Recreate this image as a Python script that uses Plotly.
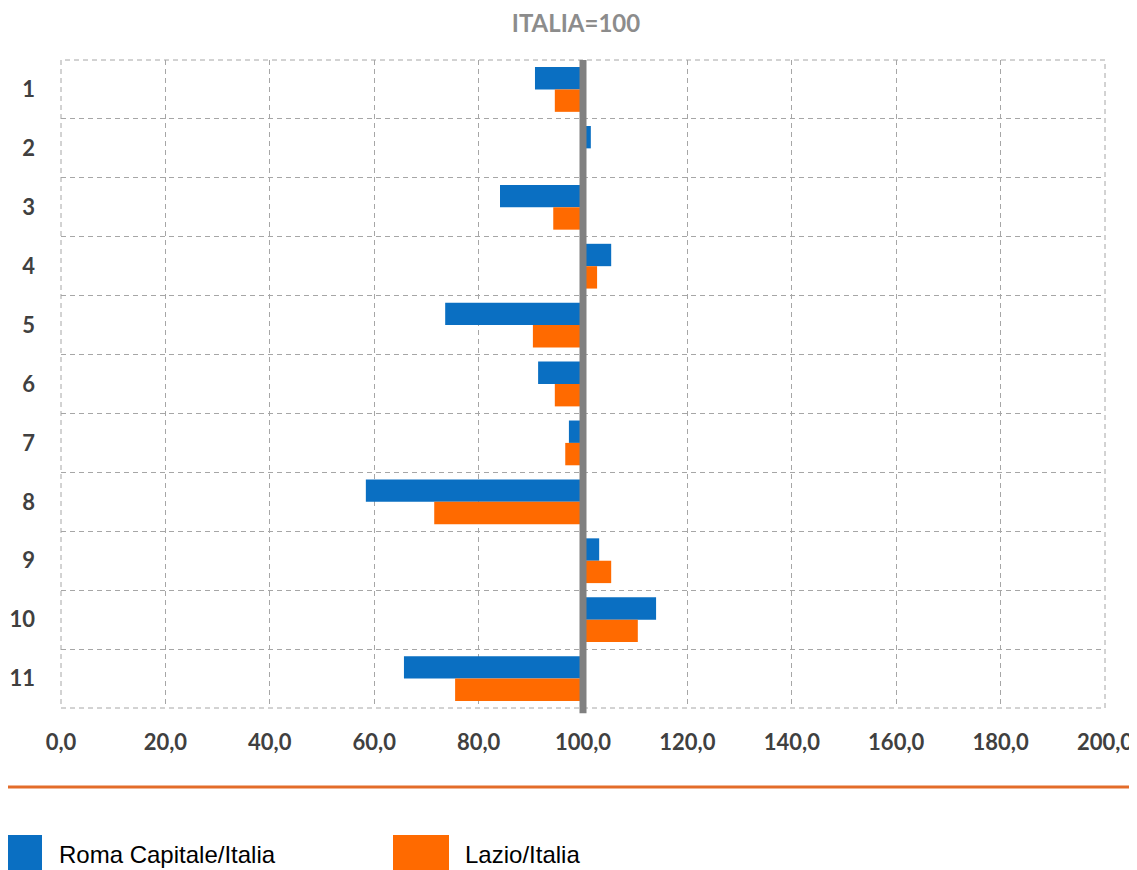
import plotly.graph_objects as go

# indici rispetto a Italia = 100
categorie = ["1", "2", "3", "4", "5", "6", "7", "8", "9", "10", "11"]
roma = [90.8, 101.5, 84.1, 105.4, 73.6, 91.4, 97.3, 58.4, 103.1, 114.0, 65.7]
lazio = [94.6, 100.0, 94.3, 102.7, 90.4, 94.6, 96.6, 71.5, 105.4, 110.5, 75.5]
nome_roma = "Roma Capitale/Italia"
nome_lazio = "Lazio/Italia"
BASE = 100
x_ticks = [0, 20, 40, 60, 80, 100, 120, 140, 160, 180, 200]

BLU = "#0a6fc2"
ARANCIO = "#ff6a00"
GRID = "#a6a6a6"
DASH = "5px,4px"
TICK_FONT = dict(family="Lato, Open Sans, sans-serif", size=22, color="#404040", weight="bold")

# la pagina ha 8px di margine sul body: la figura arriva al bordo della finestra
FW, FH = 1129, 862
L, R, T, B = 53, 32, 52, 162
PW, PH = FW - L - R, FH - T - B


def px(fx):
    return (fx - L) / PW


def py(fy):
    return (FH - B - fy) / PH


fig = go.Figure()
for nome, vals, col in [(nome_roma, roma, BLU), (nome_lazio, lazio, ARANCIO)]:
    fig.add_trace(go.Bar(y=categorie, x=[v - BASE for v in vals], base=BASE, orientation="h",
                         name=nome, marker=dict(color=col, line=dict(width=0)), showlegend=False))

# bordo tratteggiato dell'area del grafico
fig.add_shape(type="rect", xref="paper", yref="paper", x0=0, x1=1, y0=0, y1=1,
              line=dict(color=GRID, width=1, dash=DASH), layer="below")
# linea Italia = 100
fig.add_shape(type="line", xref="x", yref="paper", x0=BASE, x1=BASE, y0=-0.008, y1=1,
              line=dict(color="#808080", width=7), layer="above")
# linea arancione separatrice
fig.add_shape(type="line", xref="paper", yref="paper", x0=px(0), x1=px(FW), y0=py(779), y1=py(779),
              line=dict(color="#e36c2a", width=3))

# legenda manuale (quadrati grandi)
leg = [(nome_roma, BLU, 0, 34, 49), (nome_lazio, ARANCIO, 385, 441, 455)]
for nome, col, x0, x1, tx in leg:
    fig.add_shape(type="rect", xref="paper", yref="paper", x0=px(x0), x1=px(x1),
                  y0=py(FH + 2), y1=py(827), fillcolor=col, line=dict(width=0))
    fig.add_annotation(xref="paper", yref="paper", x=px(tx), y=py(FH), text=nome, showarrow=False,
                       xanchor="left", yanchor="bottom",
                       font=dict(family="Liberation Sans, Arial, sans-serif", size=24, color="#000000"))

fig.update_layout(
    title=dict(text="ITALIA=100", x=568 / FW, xanchor="center", y=1 - 16 / FH, yanchor="middle",
               font=dict(family="Lato, Open Sans, sans-serif", size=24, color="#8c8c8c", weight="bold")),
    barmode="group", bargap=0.24, bargroupgap=0,
    width=FW, height=FH,
    margin=dict(l=L, r=R, t=T, b=B, autoexpand=False),
    paper_bgcolor="white", plot_bgcolor="white",
    separators=",.",
    xaxis=dict(range=[0, 200], tickvals=x_ticks, tickformat=".1f", showgrid=True, gridcolor=GRID,
               griddash=DASH, gridwidth=1, zeroline=False, showline=False, ticks="", automargin=False,
               tickfont=TICK_FONT, ticklabelstandoff=19, ticklabeloverflow="allow"),
    yaxis=dict(type="category", autorange="reversed", tickson="boundaries", showgrid=True,
               gridcolor=GRID, griddash=DASH, gridwidth=1, zeroline=False, showline=False, ticks="",
               automargin=False, tickfont=TICK_FONT, ticklabelstandoff=25),
)

fig.write_html("out.html")
